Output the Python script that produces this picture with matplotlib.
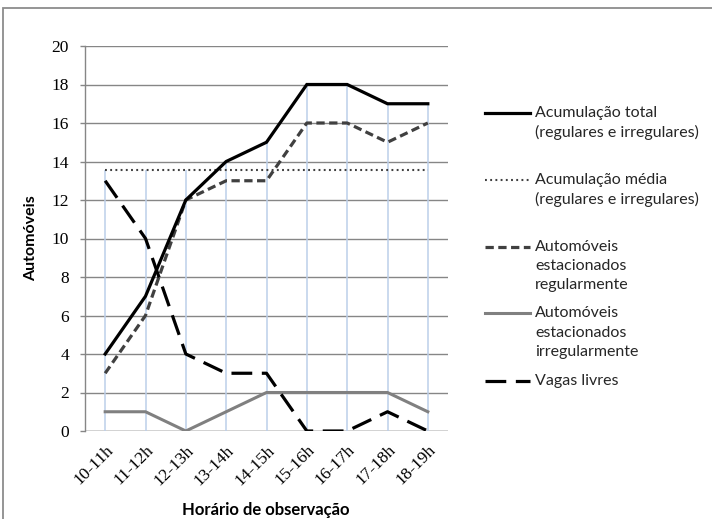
import matplotlib
matplotlib.use("Agg")
import matplotlib.pyplot as plt
from matplotlib.lines import Line2D
from matplotlib.patches import Rectangle
import numpy as np

categories = ["10-11h", "11-12h", "12-13h", "13-14h", "14-15h",
              "15-16h", "16-17h", "17-18h", "18-19h"]
acum_total = [4, 7, 12, 14, 15, 18, 18, 17, 17]
acum_media = [13.56] * 9
regulares = [3, 6, 12, 13, 13, 16, 16, 15, 16]
irregulares = [1, 1, 0, 1, 2, 2, 2, 2, 1]
vagas = [13, 10, 4, 3, 3, 0, 0, 1, 0]
yticks = [0, 2, 4, 6, 8, 10, 12, 14, 16, 18, 20]

W, H = 712, 519
fig = plt.figure(figsize=(W / 100, H / 100), dpi=100)
fig.patch.set_facecolor("white")

def fx(px):
    return px / W

def fy(py):
    return 1 - py / H

ax = fig.add_axes([fx(85), fy(431), fx(448) - fx(85), fy(46) - fy(431)])
x = np.arange(len(categories))

# drop lines
top = np.max(np.vstack([acum_total, acum_media, regulares, irregulares, vagas]), axis=0)
ax.vlines(x, 0, top, color="#bccfe9", lw=1.1, zorder=2)

ax.plot(x, acum_total, color="black", lw=2.3, solid_joinstyle="miter", zorder=5)
ax.plot(x, acum_media, color="#404040", lw=1.5, linestyle=(0, (0.9, 1.6)), zorder=4)
ax.plot(x, regulares, color="#404040", lw=2.3, linestyle=(0, (2.6, 1.4)), zorder=4)
ax.plot(x, irregulares, color="#808080", lw=2.2, zorder=3)
ax.plot(x, vagas, color="black", lw=2.3, linestyle=(0, (6.5, 3.0)), zorder=4)

ax.set_xlim(-0.5, len(categories) - 0.5)
ax.set_ylim(0, 20)
ax.set_yticks(yticks)
ax.set_yticklabels([str(v) for v in yticks], family="Liberation Serif", fontsize=12.5)
ax.set_xticks(x)
ax.set_xticklabels(categories, family="Liberation Serif", fontsize=12.5,
                   rotation=45, ha="right", va="top", rotation_mode="anchor")
ax.tick_params(axis="x", length=0, pad=8)
ax.tick_params(axis="y", length=3.6, color="#868686", width=1, pad=8)
ax.yaxis.grid(True, color="#868686", lw=1)
ax.set_axisbelow(True)
for s in ["top", "right", "bottom"]:
    ax.spines[s].set_visible(False)
ax.spines["left"].set_color("#868686")
ax.spines["left"].set_linewidth(1)
ax.axhline(0, color="#868686", lw=1, zorder=1)

fig.text(fx(31), fy(238), "Automóveis", rotation=90, ha="center", va="center",
         family="Lato", fontweight="bold", fontsize=11.5)
fig.text(fx(266), fy(510), "Horário de observação", ha="center", va="center",
         family="Lato", fontweight="bold", fontsize=12)

# legend (manual)
step = 19.3
leg_items = [
    (112.7, ["Acumulação total", "(regulares e irregulares)"],
     dict(color="black", lw=2.3)),
    (180, ["Acumulação média", "(regulares e irregulares)"],
     dict(color="#404040", lw=1.5, linestyle=(0, (0.9, 1.6)))),
    (246.7, ["Automóveis", "estacionados", "regularmente"],
     dict(color="#404040", lw=2.3, linestyle=(0, (2.6, 1.4)))),
    (313.3, ["Automóveis", "estacionados", "irregularmente"],
     dict(color="#808080", lw=2.2)),
    (380.7, ["Vagas livres"],
     dict(color="black", lw=2.3, linestyle=(0, (6.5, 3.0)))),
]
for y0, lines, style in leg_items:
    fig.add_artist(Line2D([fx(485), fx(530)], [fy(y0), fy(y0)],
                          transform=fig.transFigure, **style))
    for i, t in enumerate(lines):
        fig.text(fx(535), fy(y0 + i * step), t, ha="left", va="center",
                 family="Lato", fontsize=11.5, color="#262626")

# border
fig.add_artist(Rectangle((fx(3), fy(H + 20)), 1.2, fy(8) - fy(H + 20),
                         transform=fig.transFigure, fill=False,
                         edgecolor="#8c8c8c", lw=1.3))

fig.savefig("out.png", dpi=100)
